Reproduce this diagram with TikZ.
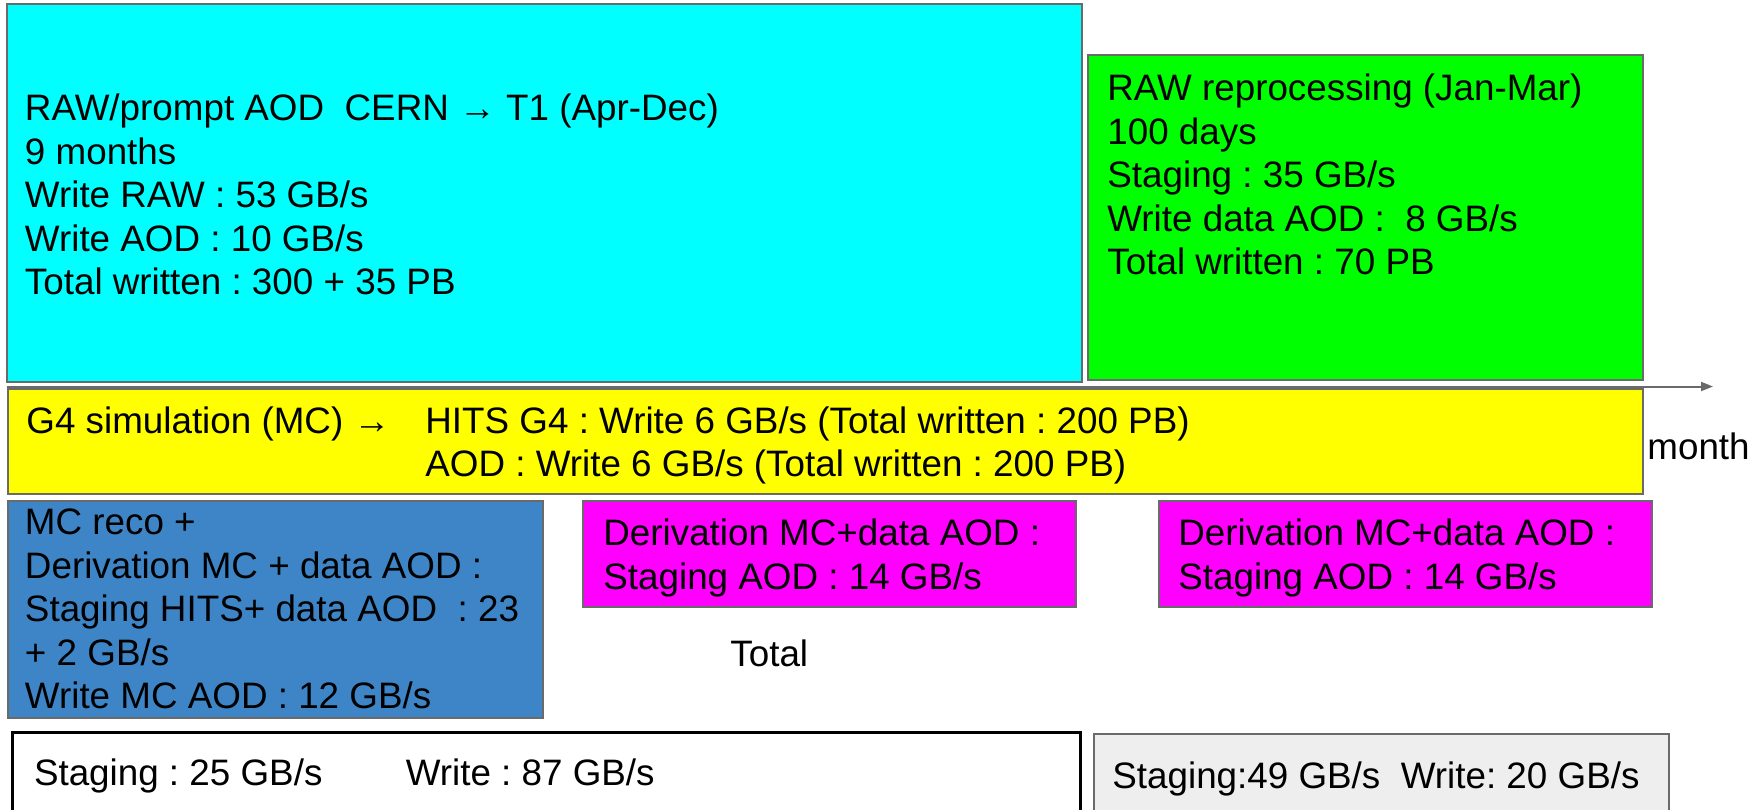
\documentclass[tikz,border=0pt]{standalone}
\usepackage{fontspec}
\setmainfont{Liberation Sans}
\usetikzlibrary{arrows.meta}
\frenchspacing

\definecolor{rawcyan}{HTML}{00FFFF}
\definecolor{reprogreen}{HTML}{00FF00}
\definecolor{simyellow}{HTML}{FFFF00}
\definecolor{recoblue}{HTML}{3D85C6}
\definecolor{derivmagenta}{HTML}{FF00FF}
\definecolor{totgray}{HTML}{EEEEEE}
\definecolor{edgegray}{HTML}{6A6A6A}

\begin{document}
\begin{tikzpicture}[x=0.5pt, y=-0.5pt]
        \tikzstyle{box}=[draw=edgegray, line width=0.8pt, anchor=north west, inner sep=0pt]
        \tikzstyle{txt}=[anchor=north west, inner sep=0pt, align=left, font=\frenchspacing\fontsize{18.4}{21.75}\selectfont]
        \tikzstyle{axis}=[draw=edgegray, line width=1pt, -{Triangle[length=6pt, width=4.5pt]}]

        \useasboundingbox (0,0) rectangle (1756,809);

        % boxes
        \node[box, fill=rawcyan, minimum width=537.5pt, minimum height=189pt] (raw) at (6,3) {};
        \node[box, fill=reprogreen, minimum width=277.5pt, minimum height=162.5pt] (repro) at (1087,54) {};
        \node[box, fill=simyellow, minimum width=817.5pt, minimum height=52.5pt] (sim) at (7,388) {};
        \node[box, fill=recoblue, minimum width=267.5pt, minimum height=108.5pt] (reco) at (7,500) {};
        \node[box, fill=derivmagenta, minimum width=246.5pt, minimum height=53pt] (deriv_1) at (582,500) {};
        \node[box, fill=derivmagenta, minimum width=246.5pt, minimum height=53pt] (deriv_2) at (1158,500) {};
        \node[box, draw=black, line width=1.5pt, minimum width=534pt, minimum height=40.5pt] (tot_1) at (11,731) {};
        \node[box, fill=totgray, minimum width=287.5pt, minimum height=39.5pt] (tot_2) at (1093,733) {};

        % time axis
        \coordinate (t_0) at (7,386.5);
        \coordinate (t_1) at (1713,386.5);
        \draw[axis] (t_0) -- (t_1);
        \node[txt] (month) at (1647,432.6) {month};

        % texts
        \node[txt] (raw_t) at (24.6,93.6) {RAW/prompt AOD\ \ CERN → T1 (Apr-Dec)\\9 months\\Write RAW : 53 GB/s\\Write AOD : 10 GB/s\\Total written : 300 + 35 PB};
        \node[txt] (repro_t) at (1107,73.6) {RAW reprocessing (Jan-Mar)\\100 days\\Staging : 35 GB/s\\Write data AOD :\ \ 8 GB/s\\Total written : 70 PB};
        \node[txt] (sim_t) at (26,406.3) {G4 simulation (MC) →};
        \node[txt] (hits_t) at (425,406.3) {HITS G4 : Write 6 GB/s (Total written : 200 PB)\\AOD : Write 6 GB/s (Total written : 200 PB)};
        \node[txt] (reco_t) at (24.6,508.6) {MC reco +\\Derivation MC + data AOD :\\Staging HITS+ data AOD\ \ : 23\\+ 2 GB/s\\Write MC AOD : 12 GB/s};
        \node[txt] (deriv_1_t) at (603,518.6) {Derivation MC+data AOD :\\Staging AOD : 14 GB/s};
        \node[txt] (deriv_2_t) at (1178,518.6) {Derivation MC+data AOD :\\Staging AOD : 14 GB/s};
        \node[txt] (total) at (730,639.6) {Total};
        \node[txt] (tot_1_s) at (33.6,758.6) {Staging : 25 GB/s};
        \node[txt] (tot_1_w) at (405.4,758.6) {Write : 87 GB/s};
        \node[txt] (tot_2_t) at (1112,761.6) {Staging:49 GB/s\ \ Write: 20 GB/s};
\end{tikzpicture}
\end{document}
